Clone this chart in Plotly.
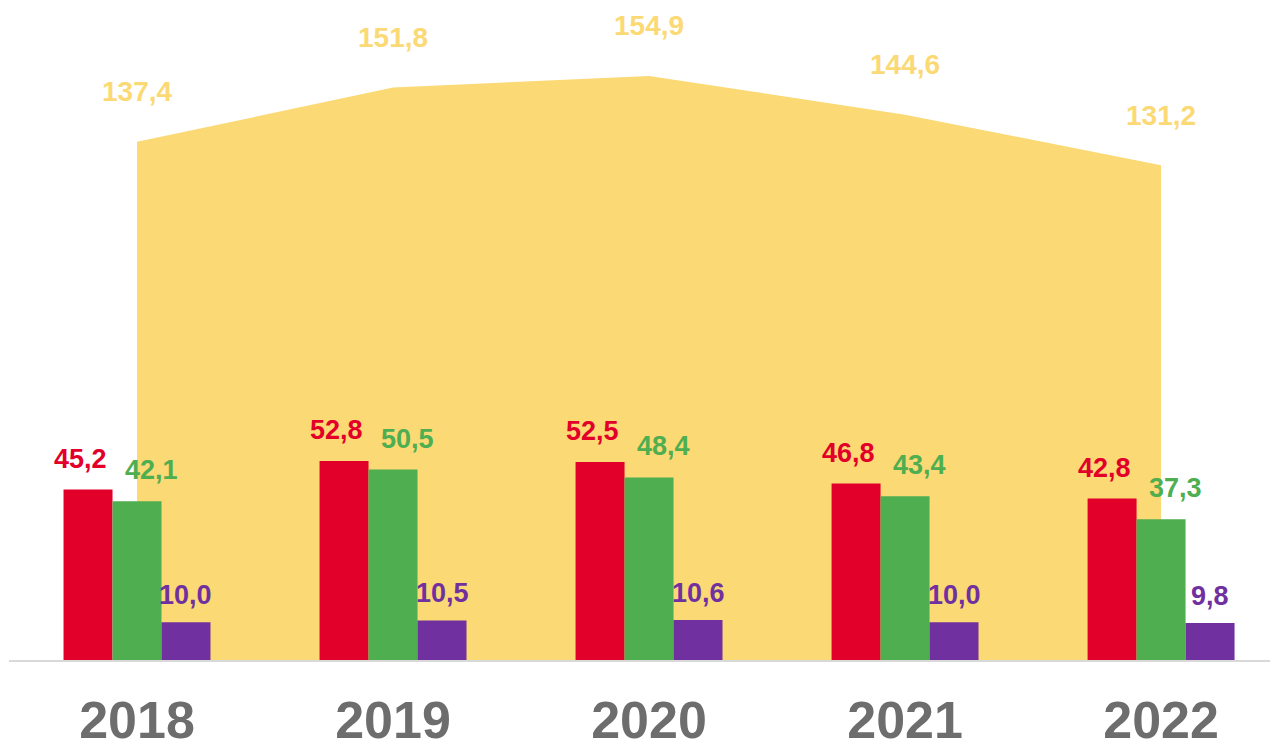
import plotly.graph_objects as go

years = ["2018", "2019", "2020", "2021", "2022"]
total = [137.4, 151.8, 154.9, 144.6, 131.2]
red_vals = [45.2, 52.8, 52.5, 46.8, 42.8]
green_vals = [42.1, 50.5, 48.4, 43.4, 37.3]
purple_vals = [10.0, 10.5, 10.6, 10.0, 9.8]

YELLOW = "#FBD975"
RED = "#E2002A"
GREEN = "#4EAE50"
PURPLE = "#7030A0"
FONT = "Liberation Sans, Arial, sans-serif"

x = list(range(len(years)))
bargap = 0.426
bw = (1 - bargap) / 3
XR = [-0.5, 4.488]
YR = [0, 172.9]

def fmt(v):
    return f"{v:.1f}".replace(".", ",")

fig = go.Figure()
fig.add_trace(go.Scatter(x=x, y=total, mode="lines", fill="tozeroy",
                         line=dict(width=0, color=YELLOW), fillcolor=YELLOW,
                         hoverinfo="skip", showlegend=False, xaxis="x", yaxis="y"))
for vals, col in [(red_vals, RED), (green_vals, GREEN), (purple_vals, PURPLE)]:
    fig.add_trace(go.Bar(x=x, y=vals, marker=dict(color=col, line=dict(width=0)),
                         showlegend=False, xaxis="x2", yaxis="y2"))

ann = []
for i, v in enumerate(total):
    ann.append(dict(x=x[i], y=v, xref="x", yref="y", text=fmt(v), showarrow=False, yshift=50,
                    font=dict(family=FONT, size=28, color=YELLOW, weight="bold")))
series = [(red_vals, RED, -1, -8, 31), (green_vals, GREEN, 0, 14, 31), (purple_vals, PURPLE, 1, 0, 27)]
for vals, col, k, dx, dy in series:
    for i, v in enumerate(vals):
        ann.append(dict(x=x[i] + k * bw, y=v, xref="x", yref="y", text=fmt(v), showarrow=False,
                        xshift=dx, yshift=dy,
                        font=dict(family=FONT, size=27, color=col, weight="bold")))

fig.update_layout(
    width=1278, height=737,
    margin=dict(l=1, r=0, t=0, b=85, autoexpand=False),
    paper_bgcolor="white", plot_bgcolor="white",
    barmode="group", bargap=bargap, bargroupgap=0,
    annotations=ann,
    xaxis=dict(tickmode="array", tickvals=x, ticktext=years, range=XR, automargin=False,
               showgrid=False, zeroline=False, showline=True, linecolor="#D9D9D9", linewidth=2,
               ticks="", ticklabelstandoff=14,
               tickfont=dict(family=FONT, size=52, color="#6D6D6D", weight="bold")),
    yaxis=dict(range=YR, visible=False, showgrid=False, zeroline=False, automargin=False),
    xaxis2=dict(range=XR, overlaying="x", visible=False, showgrid=False, zeroline=False),
    yaxis2=dict(range=YR, overlaying="y", visible=False, showgrid=False, zeroline=False),
)
fig.write_html("out.html")
